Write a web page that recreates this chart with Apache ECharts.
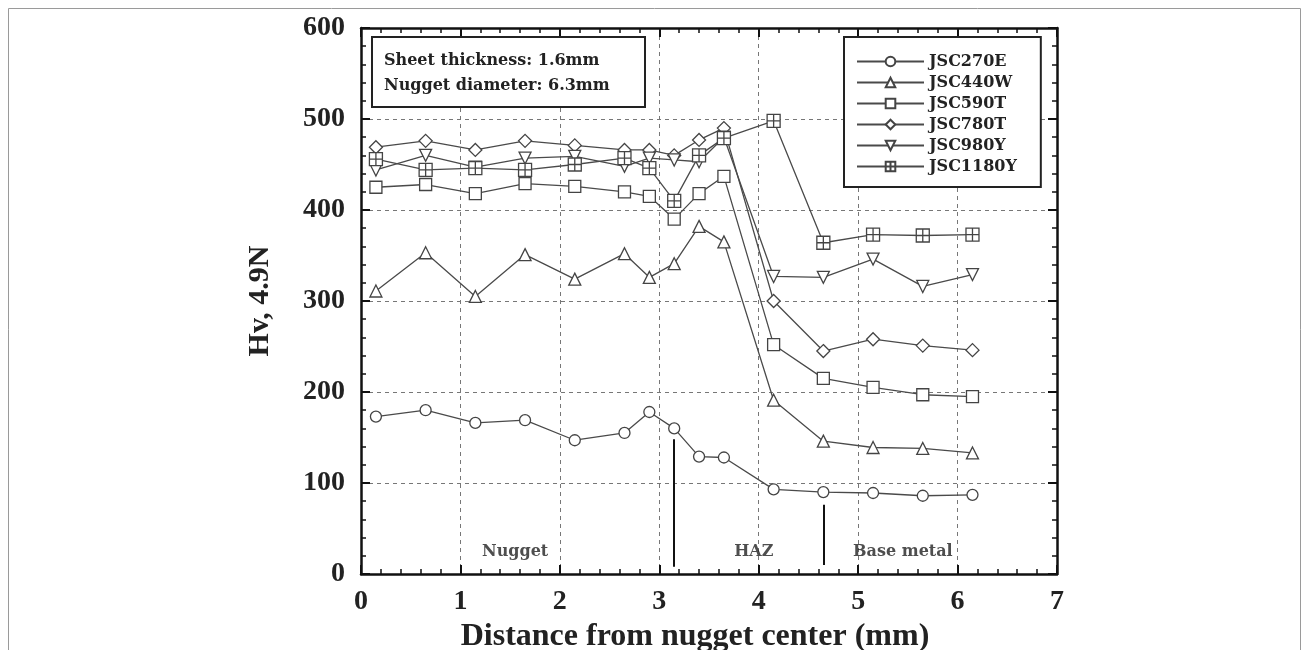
<!DOCTYPE html>
<html>
<head>
<meta charset="utf-8">
<title>Hardness profile</title>
<script src="https://cdn.jsdelivr.net/npm/echarts@6/dist/echarts.min.js"></script>
<style>
  html, body { margin: 0; padding: 0; background: #fff; }
  #main { width: 1306px; height: 650px; }
</style>
</head>
<body>
<div id="main"></div>
<script>
// distance from nugget center (mm)
var distance = [0.15, 0.65, 1.15, 1.65, 2.15, 2.65, 2.9, 3.15, 3.4, 3.65, 4.15, 4.65, 5.15, 5.65, 6.15];

var steelNames = ['JSC270E', 'JSC440W', 'JSC590T', 'JSC780T', 'JSC980Y', 'JSC1180Y'];
var jsc270e  = [173, 180, 166, 169, 147, 155, 178, 160, 129, 128, 93, 90, 89, 86, 87];
var jsc440w  = [311, 353, 305, 351, 324, 352, 326, 341, 382, 365, 191, 146, 139, 138, 133];
var jsc590t  = [425, 428, 418, 429, 426, 420, 415, 390, 418, 437, 252, 215, 205, 197, 195];
var jsc780t  = [469, 476, 466, 476, 471, 466, 466, 460, 477, 490, 300, 245, 258, 251, 246];
var jsc980y  = [444, 460, 447, 457, 459, 448, 457, 455, 453, 480, 327, 326, 346, 316, 329];
var jsc1180y = [456, 444, 446, 444, 450, 457, 446, 410, 460, 479, 498, 364, 373, 372, 373];

// zone boundaries (vertical marks) and zone names
var boundaryX = [3.15, 4.65];
var boundaryTop = [148, 76];
var boundaryBottom = [8, 10];
var zoneNames = ['Nugget', 'HAZ', 'Base metal'];
var zoneX = [1.55, 3.95, 5.45];
var zoneY = 24;

var infoLines = ['Sheet thickness: 1.6mm', 'Nugget diameter: 6.3mm'];

var serif = "'Liberation Serif', 'Times New Roman', serif";
var wideSerif = "'DejaVu Serif', serif";
var symbols = [
    'circle',
    'triangle',
    'rect',
    'diamond',
    'path://M0,0L10,0L5,9Z',
    'path://M0,0H10V10H0Z M5,0V10 M0,5H10'
];
var sizes = [11, 12, 12, 13, 12, 13];
var valueSets = [jsc270e, jsc440w, jsc590t, jsc780t, jsc980y, jsc1180y];

function pairs(ys) {
    return distance.map(function (x, i) { return [x, ys[i]]; });
}

var series = steelNames.map(function (name, k) {
    return {
        name: name,
        type: 'line',
        data: pairs(valueSets[k]),
        symbol: symbols[k],
        symbolSize: sizes[k],
        showAllSymbol: true,
        lineStyle: { color: '#4a4a4a', width: 1.3 },
        itemStyle: { color: '#fff', borderColor: '#444', borderWidth: 1.3 },
        emphasis: { disabled: true },
        z: 3 + k
    };
});

var boundaryLines = boundaryX.map(function (x, i) {
    return [{ coord: [x, boundaryTop[i]] }, { coord: [x, boundaryBottom[i]] }];
});

series.push({
    name: 'zones',
    type: 'scatter',
    symbolSize: 0,
    data: zoneNames.map(function (n, i) { return { name: n, value: [zoneX[i], zoneY] }; }),
    label: {
        show: true,
        position: 'inside',
        formatter: '{b}',
        fontFamily: wideSerif,
        fontWeight: 'bold',
        fontSize: 16,
        color: '#222'
    },
    markLine: {
        silent: true,
        symbol: 'none',
        label: { show: false },
        lineStyle: { color: '#111', width: 2, type: 'solid' },
        data: boundaryLines
    },
    z: 2
});

var tickLabel = { fontFamily: serif, fontWeight: 'bold', fontSize: 28, color: '#222' };
var axisLine = { show: true, onZero: false, lineStyle: { color: '#111', width: 2.5 } };
var splitLine = { show: true, lineStyle: { color: '#777', type: [4, 4], width: 1 } };

var myChart = echarts.init(document.getElementById('main'));
var option = {
    backgroundColor: '#fff',
    animation: false,
    grid: { left: 361, right: 249, top: 28, bottom: 76, outerBoundsMode: 'none', containLabel: false },
    legend: {
        data: steelNames,
        orient: 'vertical',
        left: 844,
        top: 37,
        padding: [16, 24, 12, 12],
        itemWidth: 67,
        itemHeight: 12,
        itemGap: 4,
        borderColor: '#222',
        borderWidth: 2,
        backgroundColor: '#fff',
        textStyle: { fontFamily: wideSerif, fontWeight: 'bold', fontSize: 16, color: '#222', lineHeight: 17 }
    },
    xAxis: [{
        type: 'value', min: 0, max: 7, interval: 1,
        name: 'Distance from nugget center (mm)',
        nameLocation: 'middle', nameGap: 43,
        nameTextStyle: { fontFamily: serif, fontWeight: 'bold', fontSize: 32, color: '#222', padding: [0, 28, 0, 0] },
        axisLine: axisLine,
        axisTick: { show: true, inside: true, length: 9, lineStyle: { color: '#111', width: 2 } },
        minorTick: { show: true, splitNumber: 5, length: 5, lineStyle: { color: '#111', width: 1.5 } },
        axisLabel: Object.assign({ margin: 14 }, tickLabel),
        splitLine: splitLine
    }, {
        type: 'value', min: 0, max: 7, interval: 1, position: 'top',
        axisLine: axisLine,
        axisTick: { show: true, inside: true, length: 9, lineStyle: { color: '#111', width: 2 } },
        minorTick: { show: true, splitNumber: 5, length: 5, lineStyle: { color: '#111', width: 1.5 } },
        axisLabel: { show: false },
        splitLine: { show: false }
    }],
    yAxis: [{
        type: 'value', min: 0, max: 600, interval: 100,
        name: 'Hv, 4.9N',
        nameLocation: 'middle', nameGap: 86, nameRotate: 90,
        nameTextStyle: { fontFamily: serif, fontWeight: 'bold', fontSize: 30, color: '#222' },
        axisLine: axisLine,
        axisTick: { show: true, inside: true, length: 9, lineStyle: { color: '#111', width: 2 } },
        minorTick: { show: true, splitNumber: 5, length: 5, lineStyle: { color: '#111', width: 1.5 } },
        axisLabel: Object.assign({ margin: 16 }, tickLabel),
        splitLine: splitLine
    }, {
        type: 'value', min: 0, max: 600, interval: 100, position: 'right',
        axisLine: axisLine,
        axisTick: { show: true, inside: true, length: 9, lineStyle: { color: '#111', width: 2 } },
        minorTick: { show: true, splitNumber: 5, length: 5, lineStyle: { color: '#111', width: 1.5 } },
        axisLabel: { show: false },
        splitLine: { show: false }
    }],
    graphic: [
        // outer frame of the figure
        {
            type: 'rect', left: 6, top: 6, silent: true, z: -10,
            shape: { width: 1292, height: 660 },
            style: { fill: 'none', stroke: '#9a9a9a', lineWidth: 1 }
        },
        // info box
        {
            type: 'rect', left: 371, top: 36, z: 20,
            shape: { width: 273, height: 70 },
            style: { fill: '#fff', stroke: '#222', lineWidth: 2 }
        },
        {
            type: 'text', left: 384, top: 53, z: 21,
            style: { text: infoLines[0], fontFamily: wideSerif, fontWeight: 'bold', fontSize: 16, fill: '#222' }
        },
        {
            type: 'text', left: 384, top: 78, z: 21,
            style: { text: infoLines[1], fontFamily: wideSerif, fontWeight: 'bold', fontSize: 16, fill: '#222' }
        }
    ],
    series: series
};
myChart.setOption(option);
</script>
</body>
</html>
